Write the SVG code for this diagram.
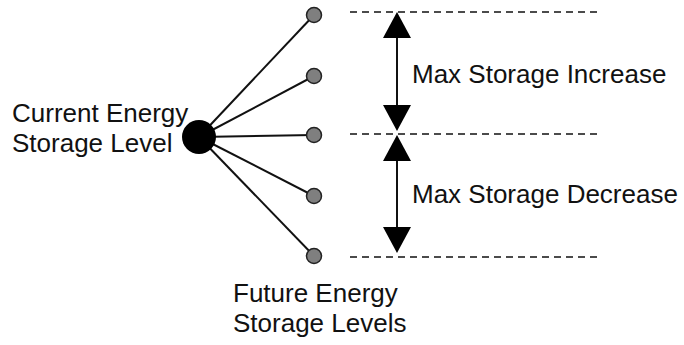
<svg xmlns="http://www.w3.org/2000/svg" width="684" height="345" viewBox="0 0 684 345">
<style>
.t{font-family:"Liberation Sans",Arial,sans-serif;font-size:26px;fill:#111}
.e{stroke:#111;stroke-width:2;fill:none}
.d{stroke:#111;stroke-width:1.6;stroke-dasharray:7,5;fill:none}
.s{fill:#7f7f7f;stroke:#222;stroke-width:1.5}
.a{fill:#000}
</style>
<rect width="684" height="345" fill="#fff"/>
<g id="connectors">
<line class="e" x1="199" y1="137" x2="314" y2="15"/>
<line class="e" x1="199" y1="137" x2="314" y2="76"/>
<line class="e" x1="199" y1="137" x2="314" y2="135"/>
<line class="e" x1="199" y1="137" x2="314" y2="196"/>
<line class="e" x1="199" y1="137" x2="314" y2="256"/>
</g>
<g id="current"><circle cx="199" cy="137" r="17" fill="#000"/>
<text class="t" x="12" y="122">Current Energy</text><text class="t" x="12" y="152">Storage Level</text></g>
<g id="f1"><circle class="s" cx="314" cy="15" r="7.5"/></g>
<g id="f2"><circle class="s" cx="314" cy="76" r="7.5"/></g>
<g id="f3"><circle class="s" cx="314" cy="135" r="7.5"/></g>
<g id="f4"><circle class="s" cx="314" cy="196" r="7.5"/></g>
<g id="f5"><circle class="s" cx="314" cy="256" r="7.5"/></g>
<g id="future"><text class="t" x="233" y="302">Future Energy</text><text class="t" x="233" y="332">Storage Levels</text></g>
<g id="levels">
<line class="d" x1="350" y1="12" x2="602" y2="12"/>
<line class="d" x1="350" y1="134" x2="602" y2="134"/>
<line class="d" x1="350" y1="257" x2="602" y2="257"/>
</g>
<g id="increase">
<line class="e" x1="397" y1="35" x2="397" y2="108"/>
<polygon class="a" points="397,12 383,38 411,38"/>
<polygon class="a" points="397,131 383,105 411,105"/>
<text class="t" x="412" y="83">Max Storage Increase</text>
</g>
<g id="decrease">
<line class="e" x1="397" y1="158" x2="397" y2="230"/>
<polygon class="a" points="397,135 383,161 411,161"/>
<polygon class="a" points="397,253 383,227 411,227"/>
<text class="t" x="412" y="203">Max Storage Decrease</text>
</g>
</svg>
